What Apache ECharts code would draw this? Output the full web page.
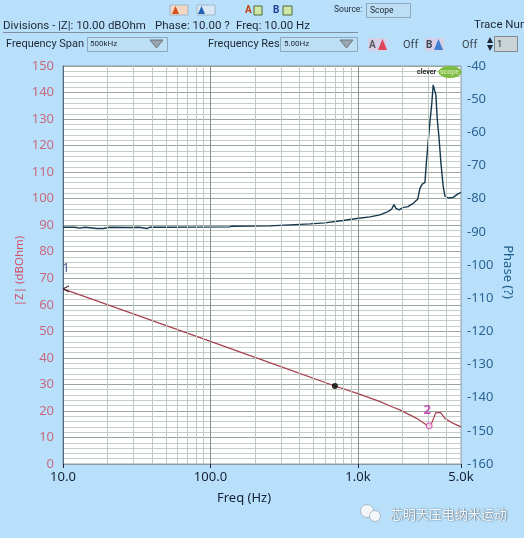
<!DOCTYPE html>
<html lang="en">
  <head>
    <meta charset="UTF-8" />
    <title>impedance and phase</title>
    <script src="https://cdn.jsdelivr.net/npm/echarts@6/dist/echarts.min.js"></script>
    <style>
      html, body { margin: 0; padding: 0; background: #b9e0fb; overflow: hidden; }
      #main { width: 524px; height: 538px; }
    </style>
  </head>
  <body>
    <div id="main"></div>
    <script>
      // frequency (Hz) / |Z| (dBOhm)
      const zFreq = [10, 30, 100, 300, 698, 1000, 1400, 1734, 1926, 2500, 2922, 3041, 3161, 3378, 3639, 3889, 4430, 5000];
      const zValues = [66, 56.6, 46.2, 36.7, 29.4, 26.5, 23.6, 21.4, 20.4, 17.2, 14.7, 14.4, 15.3, 19.4, 19.4, 17.2, 15.3, 14];

      // frequency (Hz) / phase
      const phaseFreq = [10, 12, 13, 14.1, 17, 18.7, 20.8, 28.5, 29.4, 32.7, 37.1, 38.9, 48.4, 49.2, 49.9, 135, 140, 253, 346, 473, 597, 791, 984, 1206, 1410, 1597, 1692, 1754, 1811, 1906, 2009, 2183, 2372, 2541, 2633, 2729, 2846, 2922, 2997, 3079, 3161, 3239, 3290, 3378, 3447, 3553, 3653, 3789, 3889, 4096, 4430, 4711, 5000];
      const phaseValues = [-88.6, -88.6, -88.9, -88.6, -89, -89, -88.6, -88.7, -89, -88.6, -89, -88.6, -88.6, -88, -88.6, -88.5, -88.3, -88.2, -87.9, -87.6, -87.3, -86.6, -86, -85.5, -84.9, -83.9, -83.2, -81.8, -82.9, -83.4, -82.7, -82.4, -81.4, -80.2, -76.9, -75.6, -75.2, -68.3, -62.6, -56.8, -51.8, -45.7, -45.2, -48.7, -55.7, -62, -69.2, -76.4, -79.2, -79.8, -79.6, -78.7, -78.1];

      const cursorPoint = [698, 29.4];
      const marker1 = [10, 66];
      const marker2 = [3041, 14.4];

      const freqTicks = [10, 100, 1000, 5000];
      const freqLabels = { 10: "10.0", 100: "100.0", 1000: "1.0k", 5000: "5.0k" };
      const majorFreqLines = [100, 1000];
      const minorFreqLines = [20, 30, 40, 50, 60, 70, 80, 90, 200, 300, 400, 500, 600, 700, 800, 900, 2000, 3000, 4000];

      const uiFont = 'Roboto, "Noto Sans", sans-serif';

      function zip(a, b) {
        return a.map((v, i) => [v, b[i]]);
      }

      function uiText(x, y, text, size, fill, extra) {
        return {
          type: "text", x: x, y: y, silent: true,
          style: Object.assign({ text: text, fontSize: size, fontFamily: uiFont, fill: fill || "#1d2733", textVerticalAlign: "middle" }, extra || {})
        };
      }
      function uiBox(x, y, w, h, fill, stroke) {
        return { type: "rect", silent: true, shape: { x: x, y: y, width: w, height: h }, style: { fill: fill, stroke: stroke || null, lineWidth: 1 } };
      }
      function uiTri(x, y, w, h, fill, stroke) {
        return { type: "polygon", silent: true, shape: { points: [[x, y], [x + w, y], [x + w / 2, y + h]] }, style: { fill: fill, stroke: stroke || null } };
      }
      function upTri(x, y, w, h, fill) {
        return { type: "polygon", silent: true, shape: { points: [[x, y + h], [x + w, y + h], [x + w / 2, y]] }, style: { fill: fill } };
      }

      // the instrument's controls above the plot, logo, watermark
      const toolbar = [
        uiBox(170, 5, 18, 10, "#f3d7c4", "#9fb6c8"), upTri(172, 6, 7, 8, "#d2541c"),
        uiBox(197, 5, 18, 10, "#d8e8f4", "#9fb6c8"), upTri(198, 6, 7, 8, "#1f5fb4"),
        uiText(245, 10, "A", 10, "#c2410c", { fontWeight: "bold" }), uiBox(254, 6, 8, 9, "#cfe8a8", "#4b6b3a"),
        uiText(273, 10, "B", 10, "#1c3f94", { fontWeight: "bold" }), uiBox(283, 6, 9, 9, "#cfe8a8", "#4b6b3a"),
        uiText(334, 10, "Source:", 8.5, "#1d2733"),
        uiBox(366.5, 3.5, 44, 14, "#bddff5", "#8ea9bd"),
        uiText(370, 10.5, "Scope", 8.5, "#1d2733"),

        uiText(3, 26, "Divisions -", 11.5, "#1d2733"),
        uiText(58, 26, "|Z|: 10.00 dBOhm", 11.5, "#1d2733"),
        uiText(155, 26, "Phase: 10.00 ?", 11.5, "#1d2733"),
        uiText(236, 26, "Freq: 10.00 Hz", 11.5, "#1d2733"),
        { type: "line", silent: true, shape: { x1: 3, y1: 32.5, x2: 358, y2: 32.5 }, style: { stroke: "#7f8fa0", lineWidth: 1 } },
        uiText(474, 25, "Trace Num", 11.5, "#1d2733"),

        uiText(6, 44.5, "Frequency Span", 11, "#1d2733"),
        uiBox(87.5, 37.5, 80, 14, "#bddff5", "#8ea9bd"),
        uiText(90, 44, "500kHz", 8, "#1d2733"),
        uiTri(150, 40, 13, 8, "#9aa6ad", "#6b7780"),
        uiText(208, 44.5, "Frequency Res", 11, "#1d2733"),
        uiBox(280.5, 37.5, 77, 14, "#bddff5", "#8ea9bd"),
        uiText(284, 44, "5.00Hz", 8, "#1d2733"),
        uiTri(340, 40, 13, 8, "#9aa6ad", "#6b7780"),

        uiBox(368, 38, 19, 13, "#d6cfe8"),
        uiText(369, 45, "A", 10, "#5a5a5a", { fontWeight: "bold" }),
        upTri(378, 39, 9, 11, "#e0455a"),
        uiText(403, 45, "Off", 11, "#3a4652"),
        uiBox(425, 38, 19, 13, "#d6cfe8"),
        uiText(426, 45, "B", 10, "#3a4652", { fontWeight: "bold" }),
        upTri(434, 39, 9, 11, "#3f7fd0"),
        uiText(462, 45, "Off", 11, "#3a4652"),
        upTri(487, 37, 6, 6, "#1d2733"), uiTri(487, 45, 6, 6, "#1d2733"),
        uiBox(494.5, 36.5, 23, 15, "#c9d2d6", "#7f8a90"),
        uiText(497, 44.5, "1", 9.5, "#1d2733"),

        { type: "ellipse", silent: true, shape: { cx: 450, cy: 72, rx: 11.5, ry: 6 }, style: { fill: "#7dbb42" } },
        uiText(417, 72, "clever", 7, "#222", { fontWeight: "bold" }),
        uiText(440, 72, "scope", 7, "#cfe8a8", { fontWeight: "bold" }),

        { type: "circle", silent: true, shape: { cx: 367, cy: 511, r: 6.5 }, style: { fill: "#f2f6f8", stroke: "#8a9aa6", lineWidth: 0.6 } },
        { type: "circle", silent: true, shape: { cx: 375, cy: 516, r: 5.5 }, style: { fill: "#f2f6f8", stroke: "#8a9aa6", lineWidth: 0.6 } },
        uiText(390, 514, "芯明天压电纳米运动", 13, "#f4f7f9", { fontFamily: '"Noto Sans CJK SC", sans-serif', textShadowColor: "#33414d", textShadowBlur: 1.5, textShadowOffsetX: 0.5, textShadowOffsetY: 0.5 })
      ];
      toolbar.forEach((item) => { item.z = 20; });

      const myChart = echarts.init(document.getElementById("main"), null, { renderer: "canvas" });

      const option = {
        animation: false,
        backgroundColor: "#b9e0fb",
        textStyle: { fontFamily: '"Noto Sans", sans-serif' },
        graphic: toolbar,
        grid: {
          left: 63, right: 63, top: 66, bottom: 74, outerBoundsMode: "none",
          show: true, backgroundColor: "#ffffff", borderColor: "#8b9aa3", borderWidth: 1
        },
        xAxis: {
          type: "log", logBase: 10, min: 10, max: 5000,
          name: "Freq (Hz)", nameLocation: "middle", nameGap: 28,
          nameTextStyle: { fontSize: 13, color: "#142033", padding: [0, 36, 0, 0] },
          axisLine: { show: true, lineStyle: { color: "#8b9aa3" } },
          axisTick: { show: true, length: 4, inside: false, customValues: freqTicks, lineStyle: { color: "#1d2733" } },
          axisLabel: {
            show: true, customValues: freqTicks, fontSize: 13, color: "#142033", margin: 7,
            formatter: (v) => freqLabels[v] || ""
          },
          splitLine: { show: false },
          minorTick: { show: false },
          minorSplitLine: { show: false }
        },
        yAxis: [
          {
            type: "value", min: 0, max: 150, interval: 10, position: "left",
            name: "|Z| (dBOhm)", nameLocation: "middle", nameGap: 37, nameRotate: 90, nameMoveOverlap: false,
            nameTextStyle: { fontSize: 11.5, color: "#d0506a", padding: [0, 12, 0, 0] },
            axisLine: { show: true, lineStyle: { color: "#4f6580", width: 1 } },
            axisTick: { show: false },
            axisLabel: { fontSize: 13, color: "#c76a80", margin: 9 },
            splitLine: { show: true, lineStyle: { color: "#98a69e", width: 1 } },
            minorTick: { show: false, splitNumber: 5 },
            minorSplitLine: { show: true, lineStyle: { color: "#c4cec6", width: 1 } }
          },
          {
            type: "value", min: -160, max: -40, interval: 10, position: "right",
            name: "Phase (?)", nameLocation: "middle", nameGap: 40, nameRotate: -90, nameMoveOverlap: false,
            nameTextStyle: { fontSize: 13, color: "#1f5d8c", padding: [0, 0, 0, 14] },
            axisLine: { show: false },
            axisTick: { show: false },
            axisLabel: { fontSize: 13, color: "#2b6494", margin: 6 },
            splitLine: { show: false }
          }
        ],
        series: [
          {
            name: "gridlines", type: "line", data: [], silent: true, z: 1, symbol: "none",
            markLine: {
              silent: true, symbol: "none", animation: false, label: { show: false },
              data: minorFreqLines.map((f) => ({ xAxis: f, lineStyle: { color: "#bccac3", width: 1, type: "solid" } }))
                .concat(majorFreqLines.map((f) => ({ xAxis: f, lineStyle: { color: "#84938c", width: 1, type: "solid" } })))
            }
          },
          {
            name: "|Z|", type: "line", yAxisIndex: 0, z: 3, symbol: "none",
            data: zip(zFreq, zValues),
            lineStyle: { color: "#a8414f", width: 1.2 }
          },
          {
            name: "Phase", type: "line", yAxisIndex: 1, z: 3, symbol: "none",
            data: zip(phaseFreq, phaseValues),
            lineStyle: { color: "#16384f", width: 1.4 }
          },
          {
            name: "cursor", type: "scatter", yAxisIndex: 0, z: 5, symbol: "circle", symbolSize: 6,
            data: [cursorPoint], itemStyle: { color: "#000000" }
          },
          {
            name: "marker 1", type: "scatter", yAxisIndex: 0, z: 5, clip: false,
            symbol: "path://M10 0L0 5L10 10L0 5Z", symbolSize: [6, 6], symbolOffset: [3, 0],
            data: [marker1],
            itemStyle: { color: "none", borderColor: "#3a2030", borderWidth: 1 },
            label: { show: true, formatter: "1", position: "top", distance: 6, offset: [0, -3], fontSize: 13, color: "#16307a" }
          },
          {
            name: "marker 2", type: "scatter", yAxisIndex: 0, z: 5,
            symbol: "circle", symbolSize: 6,
            data: [marker2],
            itemStyle: { color: "#f6d7ea", borderColor: "#c22aa0", borderWidth: 1 },
            label: { show: true, formatter: "2", position: "top", distance: 6, offset: [-2, 1], fontSize: 13, fontWeight: "bold", color: "#b52ca6" }
          }
        ]
      };

      myChart.setOption(option);
    </script>
  </body>
</html>
